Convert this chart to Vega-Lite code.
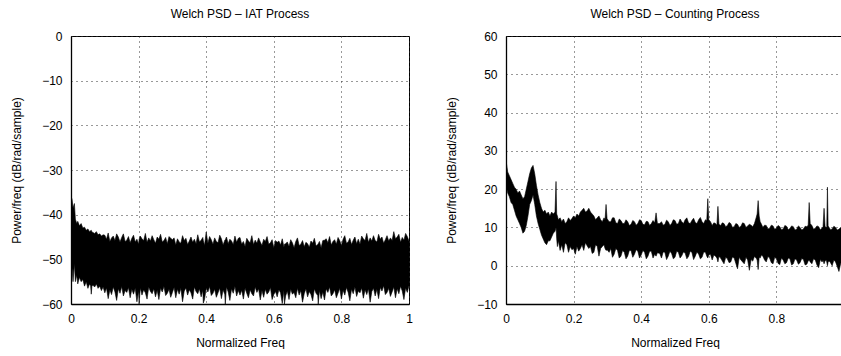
{
  "$schema": "https://vega.github.io/schema/vega-lite/v6.json",
  "padding": {"left": 10, "top": 7, "right": 0, "bottom": 0},
  "spacing": 32,
  "config": {
    "font": "Liberation Sans",
    "view": {"stroke": "black", "strokeWidth": 1},
    "title": {"font": "Liberation Sans", "fontSize": 12, "fontWeight": "normal", "color": "black", "offset": 9},
    "axis": {
      "labelFont": "Liberation Sans", "titleFont": "Liberation Sans",
      "labelFontSize": 12, "titleFontSize": 12, "titleFontWeight": "normal",
      "labelColor": "black", "titleColor": "black",
      "domainColor": "black", "domainWidth": 1.3,
      "tickSize": 0, "labelPadding": 9,
      "grid": true, "gridColor": "#333333", "gridDash": [1, 4], "gridOpacity": 1, "gridWidth": 1,
      "labelFlush": false
    },
    "axisX": {"titlePadding": 13},
    "axisY": {"titlePadding": 18}
  },
  "datasets": {
    "iat": [
      {"f":0.000,"hi":-36,"lo":-48},
      {"f":0.003,"hi":-36.5,"lo":-52},
      {"f":0.006,"hi":-38.5,"lo":-55},
      {"f":0.010,"hi":-37.5,"lo":-51},
      {"f":0.013,"hi":-41,"lo":-55},
      {"f":0.017,"hi":-42,"lo":-53.5},
      {"f":0.020,"hi":-41.5,"lo":-55.5},
      {"f":0.025,"hi":-42.5,"lo":-54},
      {"f":0.030,"hi":-42,"lo":-55},
      {"f":0.035,"hi":-43,"lo":-54.5},
      {"f":0.040,"hi":-42.8,"lo":-56},
      {"f":0.045,"hi":-43.5,"lo":-55},
      {"f":0.050,"hi":-43.2,"lo":-56.5},
      {"f":0.055,"hi":-43.8,"lo":-55.5},
      {"f":0.058,"hi":-43.6,"lo":-55.9},
      {"f":0.060,"hi":-43.5,"lo":-57.8},
      {"f":0.062,"hi":-43.9,"lo":-55.9},
      {"f":0.065,"hi":-44,"lo":-55.8},
      {"f":0.070,"hi":-44.2,"lo":-56.2},
      {"f":0.075,"hi":-43.8,"lo":-55.5},
      {"f":0.080,"hi":-44.5,"lo":-56.5},
      {"f":0.085,"hi":-44.3,"lo":-56},
      {"f":0.090,"hi":-44.8,"lo":-57},
      {"f":0.095,"hi":-44.5,"lo":-56.2},
      {"f":0.100,"hi":-44.6,"lo":-57.5},
      {"f":0.105,"hi":-45.5,"lo":-56.4},
      {"f":0.110,"hi":-44.1,"lo":-58.8},
      {"f":0.115,"hi":-46.0,"lo":-56.8},
      {"f":0.120,"hi":-45.2,"lo":-57.9},
      {"f":0.125,"hi":-44.8,"lo":-56.2},
      {"f":0.130,"hi":-45.8,"lo":-57.3},
      {"f":0.135,"hi":-44.3,"lo":-59.2},
      {"f":0.140,"hi":-45.0,"lo":-56.6},
      {"f":0.145,"hi":-46.1,"lo":-57.6},
      {"f":0.150,"hi":-45.1,"lo":-56.1},
      {"f":0.155,"hi":-44.3,"lo":-58.2},
      {"f":0.160,"hi":-46.0,"lo":-57.0},
      {"f":0.165,"hi":-45.7,"lo":-57.4},
      {"f":0.170,"hi":-44.9,"lo":-56.3},
      {"f":0.175,"hi":-46.3,"lo":-58.6},
      {"f":0.180,"hi":-45.3,"lo":-56.7},
      {"f":0.185,"hi":-44.6,"lo":-57.8},
      {"f":0.190,"hi":-46.1,"lo":-56.5},
      {"f":0.195,"hi":-45.5,"lo":-59.5},
      {"f":0.200,"hi":-46.6,"lo":-57.1},
      {"f":0.2015,"hi":-45.5,"lo":-60.0},
      {"f":0.205,"hi":-44.8,"lo":-56.4},
      {"f":0.210,"hi":-45.4,"lo":-58.0},
      {"f":0.215,"hi":-45.8,"lo":-56.8},
      {"f":0.220,"hi":-44.2,"lo":-57.5},
      {"f":0.225,"hi":-46.2,"lo":-58.9},
      {"f":0.230,"hi":-45.2,"lo":-56.2},
      {"f":0.235,"hi":-45.9,"lo":-57.2},
      {"f":0.240,"hi":-44.7,"lo":-57.7},
      {"f":0.245,"hi":-45.6,"lo":-56.6},
      {"f":0.250,"hi":-46.4,"lo":-58.4},
      {"f":0.255,"hi":-45.0,"lo":-56.9},
      {"f":0.260,"hi":-45.5,"lo":-59.0},
      {"f":0.265,"hi":-44.4,"lo":-56.5},
      {"f":0.270,"hi":-46.1,"lo":-57.3},
      {"f":0.275,"hi":-45.8,"lo":-56.1},
      {"f":0.280,"hi":-45.1,"lo":-58.1},
      {"f":0.285,"hi":-46.5,"lo":-57.6},
      {"f":0.290,"hi":-44.9,"lo":-56.7},
      {"f":0.295,"hi":-45.3,"lo":-58.5},
      {"f":0.300,"hi":-45.6,"lo":-57.4},
      {"f":0.305,"hi":-45.2,"lo":-56.3},
      {"f":0.310,"hi":-46.8,"lo":-58.6},
      {"f":0.315,"hi":-45.4,"lo":-56.7},
      {"f":0.320,"hi":-46.1,"lo":-57.8},
      {"f":0.325,"hi":-46.4,"lo":-56.5},
      {"f":0.330,"hi":-44.7,"lo":-59.5},
      {"f":0.335,"hi":-45.8,"lo":-57.1},
      {"f":0.340,"hi":-45.3,"lo":-56.4},
      {"f":0.345,"hi":-46.7,"lo":-58.0},
      {"f":0.350,"hi":-45.9,"lo":-56.8},
      {"f":0.355,"hi":-45.0,"lo":-57.5},
      {"f":0.360,"hi":-46.2,"lo":-58.9},
      {"f":0.365,"hi":-45.5,"lo":-56.2},
      {"f":0.370,"hi":-46.5,"lo":-57.2},
      {"f":0.375,"hi":-44.5,"lo":-57.7},
      {"f":0.380,"hi":-46.1,"lo":-56.6},
      {"f":0.385,"hi":-45.7,"lo":-58.4},
      {"f":0.390,"hi":-45.1,"lo":-56.9},
      {"f":0.3915,"hi":-45.8,"lo":-59.8},
      {"f":0.395,"hi":-46.9,"lo":-59.0},
      {"f":0.400,"hi":-43.9,"lo":-56.5},
      {"f":0.405,"hi":-46.4,"lo":-57.3},
      {"f":0.410,"hi":-44.9,"lo":-56.1},
      {"f":0.415,"hi":-45.6,"lo":-58.1},
      {"f":0.420,"hi":-46.6,"lo":-57.6},
      {"f":0.425,"hi":-45.2,"lo":-56.7},
      {"f":0.430,"hi":-46.0,"lo":-58.5},
      {"f":0.435,"hi":-46.3,"lo":-57.5},
      {"f":0.440,"hi":-44.6,"lo":-56.4},
      {"f":0.445,"hi":-45.4,"lo":-58.8},
      {"f":0.450,"hi":-46.8,"lo":-56.8},
      {"f":0.455,"hi":-45.7,"lo":-57.9},
      {"f":0.4565,"hi":-45.6,"lo":-60.0},
      {"f":0.460,"hi":-45.0,"lo":-56.2},
      {"f":0.465,"hi":-46.5,"lo":-57.3},
      {"f":0.470,"hi":-45.5,"lo":-59.2},
      {"f":0.475,"hi":-45.9,"lo":-56.6},
      {"f":0.480,"hi":-46.7,"lo":-57.6},
      {"f":0.485,"hi":-44.8,"lo":-56.1},
      {"f":0.490,"hi":-46.2,"lo":-58.2},
      {"f":0.495,"hi":-45.3,"lo":-57.0},
      {"f":0.500,"hi":-45.1,"lo":-58.0},
      {"f":0.505,"hi":-46.6,"lo":-56.9},
      {"f":0.510,"hi":-46.0,"lo":-58.9},
      {"f":0.515,"hi":-47.1,"lo":-56.5},
      {"f":0.520,"hi":-45.3,"lo":-57.6},
      {"f":0.525,"hi":-45.9,"lo":-58.6},
      {"f":0.530,"hi":-46.3,"lo":-56.8},
      {"f":0.535,"hi":-44.7,"lo":-57.7},
      {"f":0.540,"hi":-46.7,"lo":-58.2},
      {"f":0.545,"hi":-45.7,"lo":-56.2},
      {"f":0.550,"hi":-46.4,"lo":-57.4},
      {"f":0.555,"hi":-45.2,"lo":-56.6},
      {"f":0.560,"hi":-46.1,"lo":-59.1},
      {"f":0.565,"hi":-46.9,"lo":-57.0},
      {"f":0.570,"hi":-45.5,"lo":-58.5},
      {"f":0.575,"hi":-46.0,"lo":-56.7},
      {"f":0.580,"hi":-44.9,"lo":-57.8},
      {"f":0.585,"hi":-46.6,"lo":-57.3},
      {"f":0.590,"hi":-46.3,"lo":-56.3},
      {"f":0.595,"hi":-45.6,"lo":-59.0},
      {"f":0.600,"hi":-47.4,"lo":-57.9},
      {"f":0.605,"hi":-45.8,"lo":-57.2},
      {"f":0.610,"hi":-46.2,"lo":-58.4},
      {"f":0.615,"hi":-45.9,"lo":-56.8},
      {"f":0.620,"hi":-46.8,"lo":-57.5},
      {"f":0.625,"hi":-45.4,"lo":-59.9},
      {"f":0.630,"hi":-47.3,"lo":-56.9},
      {"f":0.6315,"hi":-46.6,"lo":-60.0},
      {"f":0.635,"hi":-46.5,"lo":-58.2},
      {"f":0.640,"hi":-46.1,"lo":-57.1},
      {"f":0.645,"hi":-47.1,"lo":-59.0},
      {"f":0.650,"hi":-45.6,"lo":-56.7},
      {"f":0.655,"hi":-46.3,"lo":-57.8},
      {"f":0.660,"hi":-47.4,"lo":-57.4},
      {"f":0.665,"hi":-46.0,"lo":-58.6},
      {"f":0.670,"hi":-45.2,"lo":-56.5},
      {"f":0.675,"hi":-46.9,"lo":-58.0},
      {"f":0.680,"hi":-46.6,"lo":-57.0},
      {"f":0.685,"hi":-45.8,"lo":-59.6},
      {"f":0.690,"hi":-47.2,"lo":-57.7},
      {"f":0.695,"hi":-46.2,"lo":-56.6},
      {"f":0.700,"hi":-46.5,"lo":-58.4},
      {"f":0.705,"hi":-47.3,"lo":-57.2},
      {"f":0.710,"hi":-45.9,"lo":-57.9},
      {"f":0.715,"hi":-46.4,"lo":-59.3},
      {"f":0.720,"hi":-45.3,"lo":-56.6},
      {"f":0.725,"hi":-47.0,"lo":-57.6},
      {"f":0.730,"hi":-46.7,"lo":-58.1},
      {"f":0.7315,"hi":-46.5,"lo":-60.0},
      {"f":0.735,"hi":-46.0,"lo":-57.0},
      {"f":0.740,"hi":-47.4,"lo":-58.8},
      {"f":0.745,"hi":-45.8,"lo":-57.3},
      {"f":0.750,"hi":-45.7,"lo":-59.1},
      {"f":0.755,"hi":-45.4,"lo":-56.6},
      {"f":0.760,"hi":-46.3,"lo":-57.4},
      {"f":0.765,"hi":-44.9,"lo":-56.2},
      {"f":0.770,"hi":-46.8,"lo":-58.2},
      {"f":0.775,"hi":-46.0,"lo":-57.7},
      {"f":0.780,"hi":-45.6,"lo":-56.8},
      {"f":0.785,"hi":-46.6,"lo":-58.6},
      {"f":0.790,"hi":-45.1,"lo":-57.6},
      {"f":0.795,"hi":-45.8,"lo":-56.5},
      {"f":0.800,"hi":-46.9,"lo":-58.9},
      {"f":0.805,"hi":-45.5,"lo":-56.9},
      {"f":0.810,"hi":-44.7,"lo":-58.0},
      {"f":0.815,"hi":-46.4,"lo":-56.3},
      {"f":0.820,"hi":-46.1,"lo":-57.4},
      {"f":0.825,"hi":-45.3,"lo":-59.3},
      {"f":0.830,"hi":-46.7,"lo":-56.7},
      {"f":0.835,"hi":-45.7,"lo":-57.7},
      {"f":0.840,"hi":-45.0,"lo":-56.2},
      {"f":0.845,"hi":-46.5,"lo":-58.3},
      {"f":0.850,"hi":-45.5,"lo":-57.1},
      {"f":0.855,"hi":-46.6,"lo":-57.5},
      {"f":0.860,"hi":-44.8,"lo":-56.4},
      {"f":0.865,"hi":-45.4,"lo":-58.7},
      {"f":0.870,"hi":-45.8,"lo":-56.8},
      {"f":0.875,"hi":-44.2,"lo":-57.9},
      {"f":0.880,"hi":-46.2,"lo":-56.6},
      {"f":0.885,"hi":-45.2,"lo":-59.6},
      {"f":0.890,"hi":-45.9,"lo":-57.2},
      {"f":0.895,"hi":-44.7,"lo":-56.5},
      {"f":0.900,"hi":-45.8,"lo":-58.2},
      {"f":0.905,"hi":-46.1,"lo":-56.7},
      {"f":0.910,"hi":-44.4,"lo":-58.8},
      {"f":0.915,"hi":-45.5,"lo":-56.3},
      {"f":0.920,"hi":-45.0,"lo":-57.1},
      {"f":0.925,"hi":-46.4,"lo":-55.9},
      {"f":0.930,"hi":-45.6,"lo":-57.9},
      {"f":0.935,"hi":-44.7,"lo":-57.4},
      {"f":0.940,"hi":-45.9,"lo":-56.5},
      {"f":0.945,"hi":-45.2,"lo":-58.3},
      {"f":0.950,"hi":-45.8,"lo":-57.3},
      {"f":0.955,"hi":-43.8,"lo":-56.2},
      {"f":0.960,"hi":-45.4,"lo":-58.6},
      {"f":0.965,"hi":-45.0,"lo":-56.6},
      {"f":0.970,"hi":-44.4,"lo":-57.7},
      {"f":0.975,"hi":-46.2,"lo":-56.0},
      {"f":0.980,"hi":-45.1,"lo":-57.1},
      {"f":0.985,"hi":-45.7,"lo":-59.0},
      {"f":0.990,"hi":-44.2,"lo":-56.4},
      {"f":0.995,"hi":-44.9,"lo":-57.4},
      {"f":1.000,"hi":-45.9,"lo":-55.9}
    ],
    "cnt": [
      {"f":0.000,"hi":27.5,"lo":21},
      {"f":0.005,"hi":24.5,"lo":19},
      {"f":0.010,"hi":23.5,"lo":18},
      {"f":0.015,"hi":22.5,"lo":16.5},
      {"f":0.020,"hi":21.5,"lo":16},
      {"f":0.025,"hi":20.5,"lo":14.5},
      {"f":0.030,"hi":20,"lo":13},
      {"f":0.035,"hi":19,"lo":12},
      {"f":0.040,"hi":19.5,"lo":11},
      {"f":0.045,"hi":18.5,"lo":10},
      {"f":0.050,"hi":17.5,"lo":8.5},
      {"f":0.055,"hi":18,"lo":9},
      {"f":0.060,"hi":20,"lo":10.5},
      {"f":0.065,"hi":22,"lo":13},
      {"f":0.070,"hi":24,"lo":16},
      {"f":0.075,"hi":25.5,"lo":17},
      {"f":0.080,"hi":26.2,"lo":18.5},
      {"f":0.085,"hi":24,"lo":16},
      {"f":0.090,"hi":21,"lo":13},
      {"f":0.095,"hi":18.5,"lo":11},
      {"f":0.100,"hi":16.5,"lo":9.5},
      {"f":0.105,"hi":15,"lo":8},
      {"f":0.110,"hi":14,"lo":7},
      {"f":0.115,"hi":14.5,"lo":6},
      {"f":0.120,"hi":13.5,"lo":5.5},
      {"f":0.125,"hi":14,"lo":6.5},
      {"f":0.130,"hi":13,"lo":6.5},
      {"f":0.135,"hi":14,"lo":7.5},
      {"f":0.140,"hi":13.5,"lo":8.5},
      {"f":0.145,"hi":14,"lo":9},
      {"f":0.148,"hi":22,"lo":10},
      {"f":0.150,"hi":13.5,"lo":7},
      {"f":0.152,"hi":13,"lo":5},
      {"f":0.155,"hi":12,"lo":6.5},
      {"f":0.160,"hi":12.5,"lo":4},
      {"f":0.165,"hi":11.5,"lo":5.5},
      {"f":0.170,"hi":12.2,"lo":3.5},
      {"f":0.175,"hi":11,"lo":6},
      {"f":0.180,"hi":11.5,"lo":5.5},
      {"f":0.185,"hi":12.5,"lo":3.5},
      {"f":0.190,"hi":11.8,"lo":5},
      {"f":0.195,"hi":12.3,"lo":4.2},
      {"f":0.200,"hi":13,"lo":4.5},
      {"f":0.205,"hi":12.5,"lo":3},
      {"f":0.210,"hi":13.5,"lo":5},
      {"f":0.215,"hi":13,"lo":3.8},
      {"f":0.220,"hi":14,"lo":4.5},
      {"f":0.225,"hi":14.5,"lo":5.5},
      {"f":0.230,"hi":15,"lo":4},
      {"f":0.235,"hi":14,"lo":6},
      {"f":0.240,"hi":14.3,"lo":5.2},
      {"f":0.245,"hi":15,"lo":4.5},
      {"f":0.250,"hi":14,"lo":5},
      {"f":0.255,"hi":13.5,"lo":3.2},
      {"f":0.260,"hi":13,"lo":3.5},
      {"f":0.265,"hi":12,"lo":5.5},
      {"f":0.270,"hi":12.5,"lo":5},
      {"f":0.275,"hi":13,"lo":2.5},
      {"f":0.280,"hi":12,"lo":4.5},
      {"f":0.285,"hi":11.5,"lo":5},
      {"f":0.290,"hi":12.5,"lo":5.5},
      {"f":0.293,"hi":12,"lo":4.5},
      {"f":0.296,"hi":16,"lo":4},
      {"f":0.299,"hi":12.3,"lo":4.2},
      {"f":0.305,"hi":11.5,"lo":3.5},
      {"f":0.310,"hi":11.5,"lo":4.5},
      {"f":0.315,"hi":12.5,"lo":2.2},
      {"f":0.320,"hi":12.5,"lo":3},
      {"f":0.325,"hi":11.2,"lo":4.5},
      {"f":0.330,"hi":11,"lo":4},
      {"f":0.335,"hi":12.2,"lo":2},
      {"f":0.340,"hi":11.8,"lo":2.5},
      {"f":0.345,"hi":11,"lo":4},
      {"f":0.350,"hi":11,"lo":3.5},
      {"f":0.355,"hi":12,"lo":1.8},
      {"f":0.360,"hi":11.5,"lo":2.5},
      {"f":0.365,"hi":10.5,"lo":4},
      {"f":0.370,"hi":10.8,"lo":4},
      {"f":0.375,"hi":11.8,"lo":2.2},
      {"f":0.380,"hi":11.5,"lo":3},
      {"f":0.385,"hi":10.6,"lo":4.2},
      {"f":0.390,"hi":11,"lo":3.8},
      {"f":0.395,"hi":12,"lo":2},
      {"f":0.400,"hi":11.8,"lo":2.8},
      {"f":0.405,"hi":10.8,"lo":4},
      {"f":0.410,"hi":10.7,"lo":3.5},
      {"f":0.415,"hi":11.6,"lo":1.8},
      {"f":0.420,"hi":11.5,"lo":2.5},
      {"f":0.425,"hi":10.5,"lo":3.8},
      {"f":0.430,"hi":11,"lo":3.8},
      {"f":0.435,"hi":11.8,"lo":2},
      {"f":0.440,"hi":11.2,"lo":3},
      {"f":0.444,"hi":13.8,"lo":2.5},
      {"f":0.448,"hi":11,"lo":3.4},
      {"f":0.455,"hi":11,"lo":3.2},
      {"f":0.460,"hi":11.5,"lo":2},
      {"f":0.465,"hi":10.6,"lo":3.6},
      {"f":0.470,"hi":10.8,"lo":3.5},
      {"f":0.475,"hi":11.9,"lo":1.6},
      {"f":0.480,"hi":11.5,"lo":2.5},
      {"f":0.485,"hi":10.5,"lo":3.8},
      {"f":0.490,"hi":11,"lo":3.2},
      {"f":0.495,"hi":12,"lo":1.8},
      {"f":0.500,"hi":11.8,"lo":2.2},
      {"f":0.505,"hi":10.8,"lo":3.8},
      {"f":0.510,"hi":11,"lo":3.5},
      {"f":0.515,"hi":12.2,"lo":2},
      {"f":0.520,"hi":11.5,"lo":2.6},
      {"f":0.525,"hi":11,"lo":3.6},
      {"f":0.530,"hi":12,"lo":3.3},
      {"f":0.535,"hi":12.5,"lo":1.8},
      {"f":0.540,"hi":11.2,"lo":2.4},
      {"f":0.545,"hi":11,"lo":3.8},
      {"f":0.550,"hi":11.8,"lo":3.5},
      {"f":0.555,"hi":12.4,"lo":1.6},
      {"f":0.560,"hi":11.3,"lo":2.5},
      {"f":0.565,"hi":11,"lo":3.6},
      {"f":0.570,"hi":12,"lo":3},
      {"f":0.575,"hi":12.6,"lo":1.8},
      {"f":0.580,"hi":11.5,"lo":2.2},
      {"f":0.585,"hi":11,"lo":3.6},
      {"f":0.590,"hi":12,"lo":3.5},
      {"f":0.594,"hi":11.8,"lo":2.5},
      {"f":0.597,"hi":17.5,"lo":2},
      {"f":0.600,"hi":12,"lo":2.8},
      {"f":0.605,"hi":11.5,"lo":3},
      {"f":0.610,"hi":10.5,"lo":1.5},
      {"f":0.615,"hi":11.2,"lo":2.8},
      {"f":0.620,"hi":11,"lo":2.5},
      {"f":0.624,"hi":10.6,"lo":2},
      {"f":0.627,"hi":15.5,"lo":1},
      {"f":0.630,"hi":10.8,"lo":2.4},
      {"f":0.635,"hi":10.5,"lo":2},
      {"f":0.640,"hi":11.2,"lo":1.2},
      {"f":0.645,"hi":11,"lo":0.5},
      {"f":0.650,"hi":10.2,"lo":2.2},
      {"f":0.655,"hi":10.5,"lo":1.8},
      {"f":0.660,"hi":11.3,"lo":0.8},
      {"f":0.665,"hi":11,"lo":1},
      {"f":0.670,"hi":10,"lo":2.3},
      {"f":0.675,"hi":10.2,"lo":2},
      {"f":0.680,"hi":11,"lo":0.6},
      {"f":0.685,"hi":10.8,"lo":-0.8},
      {"f":0.690,"hi":10,"lo":2.2},
      {"f":0.695,"hi":10.3,"lo":1.5},
      {"f":0.700,"hi":11.2,"lo":1},
      {"f":0.705,"hi":11,"lo":0.5},
      {"f":0.710,"hi":10,"lo":2.2},
      {"f":0.715,"hi":10.4,"lo":1.5},
      {"f":0.720,"hi":10.8,"lo":-1.2},
      {"f":0.725,"hi":10.6,"lo":1.6},
      {"f":0.730,"hi":10.2,"lo":1.2},
      {"f":0.735,"hi":11,"lo":2.4},
      {"f":0.740,"hi":12.5,"lo":2},
      {"f":0.743,"hi":13.5,"lo":1.5},
      {"f":0.746,"hi":17,"lo":-1},
      {"f":0.749,"hi":13,"lo":2.2},
      {"f":0.752,"hi":11.5,"lo":2},
      {"f":0.756,"hi":10.8,"lo":2.8},
      {"f":0.760,"hi":10,"lo":2.5},
      {"f":0.765,"hi":10.6,"lo":1.5},
      {"f":0.770,"hi":10.5,"lo":1},
      {"f":0.775,"hi":9.6,"lo":2.4},
      {"f":0.780,"hi":9.8,"lo":2},
      {"f":0.785,"hi":10.6,"lo":0.8},
      {"f":0.790,"hi":10.4,"lo":0.5},
      {"f":0.795,"hi":9.5,"lo":2.2},
      {"f":0.800,"hi":9.8,"lo":1.8},
      {"f":0.805,"hi":10.5,"lo":0.6},
      {"f":0.810,"hi":10.2,"lo":0.3},
      {"f":0.815,"hi":9.4,"lo":2},
      {"f":0.820,"hi":9.6,"lo":1.5},
      {"f":0.825,"hi":10.5,"lo":0.5},
      {"f":0.830,"hi":10.3,"lo":0.8},
      {"f":0.835,"hi":9.4,"lo":2},
      {"f":0.840,"hi":9.7,"lo":1.8},
      {"f":0.845,"hi":10.4,"lo":0.2},
      {"f":0.850,"hi":10.2,"lo":0.5},
      {"f":0.855,"hi":9.3,"lo":1.8},
      {"f":0.860,"hi":9.5,"lo":1.5},
      {"f":0.865,"hi":10.4,"lo":0.4},
      {"f":0.870,"hi":10,"lo":0.8},
      {"f":0.875,"hi":9.3,"lo":1.9},
      {"f":0.880,"hi":9.6,"lo":1.6},
      {"f":0.885,"hi":10.3,"lo":0.2},
      {"f":0.890,"hi":10.2,"lo":0.4},
      {"f":0.894,"hi":10.6,"lo":1.2},
      {"f":0.897,"hi":16.5,"lo":1.5},
      {"f":0.900,"hi":11,"lo":1},
      {"f":0.905,"hi":10.5,"lo":0.5},
      {"f":0.910,"hi":9.5,"lo":1.8},
      {"f":0.915,"hi":9.8,"lo":1.5},
      {"f":0.920,"hi":10.4,"lo":0.2},
      {"f":0.925,"hi":10.2,"lo":-0.5},
      {"f":0.930,"hi":9.4,"lo":1.6},
      {"f":0.935,"hi":9.8,"lo":1},
      {"f":0.938,"hi":10.2,"lo":1.4},
      {"f":0.941,"hi":15,"lo":0.5},
      {"f":0.944,"hi":10.3,"lo":1.2},
      {"f":0.947,"hi":10,"lo":1.5},
      {"f":0.949,"hi":10.2,"lo":1.0},
      {"f":0.951,"hi":20.5,"lo":0},
      {"f":0.953,"hi":10.4,"lo":1},
      {"f":0.956,"hi":10,"lo":1.2},
      {"f":0.960,"hi":9.4,"lo":0.8},
      {"f":0.965,"hi":9.6,"lo":0},
      {"f":0.970,"hi":10.3,"lo":1.5},
      {"f":0.975,"hi":10,"lo":1},
      {"f":0.980,"hi":9.3,"lo":-0.2},
      {"f":0.985,"hi":9.5,"lo":-1.5},
      {"f":0.990,"hi":10,"lo":0.5},
      {"f":0.995,"hi":9.2,"lo":1.2},
      {"f":1.000,"hi":9.5,"lo":0.5}
    ]
  },
  "hconcat": [
    {
      "title": "Welch PSD – IAT Process",
      "width": 338,
      "height": 268,
      "data": {"name": "iat"},
      "mark": {"type": "area", "color": "black", "stroke": "black", "strokeWidth": 0.6, "clip": true},
      "encoding": {
        "x": {"field": "f", "type": "quantitative", "scale": {"domain": [0, 1], "nice": false},
              "axis": {"title": "Normalized Freq", "values": [0, 0.2, 0.4, 0.6, 0.8, 1], "format": "~g"}},
        "y": {"field": "hi", "type": "quantitative", "scale": {"domain": [-60, 0], "nice": false, "zero": false},
              "axis": {"title": "Power/freq (dB/rad/sample)", "values": [-60, -50, -40, -30, -20, -10, 0]}},
        "y2": {"field": "lo"}
      }
    },
    {
      "title": "Welch PSD – Counting Process",
      "width": 338,
      "height": 268,
      "data": {"name": "cnt"},
      "mark": {"type": "area", "color": "black", "stroke": "black", "strokeWidth": 0.6, "clip": true},
      "encoding": {
        "x": {"field": "f", "type": "quantitative", "scale": {"domain": [0, 1], "nice": false},
              "axis": {"title": "Normalized Freq", "values": [0, 0.2, 0.4, 0.6, 0.8, 1], "format": "~g"}},
        "y": {"field": "hi", "type": "quantitative", "scale": {"domain": [-10, 60], "nice": false, "zero": false},
              "axis": {"title": "Power/freq (dB/rad/sample)", "values": [-10, 0, 10, 20, 30, 40, 50, 60]}},
        "y2": {"field": "lo"}
      }
    }
  ]
}
